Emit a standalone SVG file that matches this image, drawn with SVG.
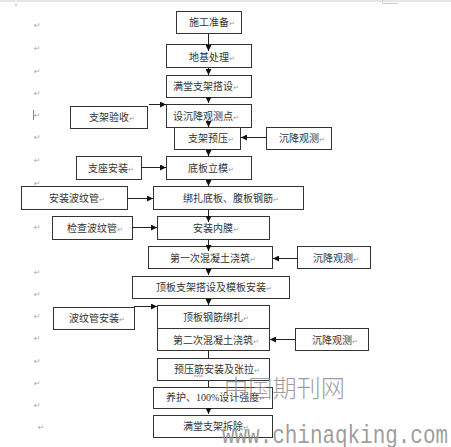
<svg xmlns="http://www.w3.org/2000/svg" width="451" height="447" viewBox="0 0 451 447">
<defs>
<marker id="ah" viewBox="0 0 10 10" refX="10" refY="5" markerWidth="6" markerHeight="6" orient="auto" markerUnits="userSpaceOnUse"><path d="M0,0 L10,5 L0,10 z" fill="#111"/></marker>
<style>
.box{fill:#fff;stroke:#333;stroke-width:1}
.t{font-family:"Liberation Serif","Noto Sans CJK SC",serif;font-size:10px;fill:#333}
.pm{font-family:"DejaVu Sans",sans-serif;font-size:7px;fill:#999}
.lm{font-family:"DejaVu Sans",sans-serif;font-size:8px;fill:#aaa}
.c{fill:none;stroke:#222;stroke-width:1}
.a{marker-end:url(#ah)}
.wm{font-family:"Noto Sans CJK SC",sans-serif;fill:#8c8c8c;fill-opacity:0.85}
</style>
</defs>
<rect width="451" height="447" fill="#fff"/>
<g id="page" stroke="#ccc" stroke-width="1" fill="none">
<line x1="0" y1="1" x2="451" y2="1"/>
<path d="M382.5,0 V3.5 H398"/>
<line x1="16" y1="4" x2="16" y2="6" stroke="#999"/>
<line x1="33.5" y1="110" x2="33.5" y2="120" stroke="#888"/>
</g>
<g id="margin-marks">
<text class="lm" x="34" y="28">↵</text>
<text class="lm" x="34" y="51">↵</text>
<text class="lm" x="34" y="74">↵</text>
<text class="lm" x="34" y="96">↵</text>
<text class="lm" x="34" y="118">↵</text>
<text class="lm" x="34" y="140">↵</text>
<text class="lm" x="34" y="163">↵</text>
<text class="lm" x="34" y="186">↵</text>
<text class="lm" x="34" y="230">↵</text>
<text class="lm" x="34" y="275">↵</text>
<text class="lm" x="34" y="297">↵</text>
<text class="lm" x="34" y="319">↵</text>
<text class="lm" x="34" y="341">↵</text>
<text class="lm" x="34" y="364">↵</text>
<text class="lm" x="34" y="386">↵</text>
<text class="lm" x="34" y="408">↵</text>
<text class="lm" x="38" y="430">↵</text>
</g>
<g id="n1"><rect class="box" x="176.5" y="11.5" width="65" height="22"/><text class="t" x="189" y="26">施工准备<tspan class="pm">↵</tspan></text></g>
<g id="n2"><rect class="box" x="166.5" y="44.5" width="85" height="23"/><text class="t" x="189" y="61">地基处理<tspan class="pm">↵</tspan></text></g>
<g id="n3"><rect class="box" x="166.5" y="75.5" width="85" height="22"/><text class="t" x="173" y="90">满堂支架搭设<tspan class="pm">↵</tspan></text></g>
<g id="n4"><rect class="box" x="166.5" y="104.5" width="85" height="23"/><text class="t" x="173" y="120">设沉降观测点<tspan class="pm">↵</tspan></text></g>
<g id="n5"><rect class="box" x="70.5" y="106.5" width="77" height="22"/><text class="t" x="89" y="121">支架验收<tspan class="pm">↵</tspan></text></g>
<g id="n6"><rect class="box" x="174.5" y="127.5" width="66" height="22"/><text class="t" x="188" y="142">支架预压<tspan class="pm">↵</tspan></text></g>
<g id="n7"><rect class="box" x="266.5" y="127.5" width="65" height="22"/><text class="t" x="279" y="142">沉降观测<tspan class="pm">↵</tspan></text></g>
<g id="n8"><rect class="box" x="166.5" y="156.5" width="85" height="23"/><text class="t" x="188" y="172">底板立模<tspan class="pm">↵</tspan></text></g>
<g id="n9"><rect class="box" x="76.5" y="156.5" width="65" height="23"/><text class="t" x="88" y="172">支座安装<tspan class="pm">↵</tspan></text></g>
<g id="n10"><rect class="box" x="153.5" y="186.5" width="150" height="23"/><text class="t" x="183" y="202">绑扎底板、腹板钢筋<tspan class="pm">↵</tspan></text></g>
<g id="n11"><rect class="box" x="21.5" y="186.5" width="106" height="23"/><text class="t" x="49" y="202">安装波纹管<tspan class="pm">↵</tspan></text></g>
<g id="n12"><rect class="box" x="157.5" y="216.5" width="112" height="23"/><text class="t" x="193" y="232">安装内膜<tspan class="pm">↵</tspan></text></g>
<g id="n13"><rect class="box" x="52.5" y="216.5" width="80" height="23"/><text class="t" x="67" y="232">检查波纹管<tspan class="pm">↵</tspan></text></g>
<g id="n14"><rect class="box" x="148.5" y="246.5" width="124" height="22"/><text class="t" x="170" y="262">第一次混凝土浇筑<tspan class="pm">↵</tspan></text></g>
<g id="n15"><rect class="box" x="297.5" y="246.5" width="73" height="22"/><text class="t" x="313" y="262">沉降观测<tspan class="pm">↵</tspan></text></g>
<g id="n16"><rect class="box" x="132.5" y="276.5" width="157" height="22"/><text class="t" x="156" y="291">顶板支架搭设及模板安装<tspan class="pm">↵</tspan></text></g>
<g id="n17"><rect class="box" x="157.5" y="305.5" width="112" height="23"/><text class="t" x="183" y="321">顶板钢筋绑扎<tspan class="pm">↵</tspan></text></g>
<g id="n18"><rect class="box" x="157.5" y="328.5" width="112" height="22"/><text class="t" x="173" y="344">第二次混凝土浇筑<tspan class="pm">↵</tspan></text></g>
<g id="n19"><rect class="box" x="53.5" y="307.5" width="81" height="22"/><text class="t" x="69" y="322">波纹管安装<tspan class="pm">↵</tspan></text></g>
<g id="n20"><rect class="box" x="295.5" y="328.5" width="73" height="22"/><text class="t" x="312" y="344">沉降观测<tspan class="pm">↵</tspan></text></g>
<g id="n21"><rect class="box" x="157.5" y="358.5" width="112" height="22"/><text class="t" x="174" y="373">预压筋安装及张拉<tspan class="pm">↵</tspan></text><path d="M194,376.5 l1.5,-1 l1.5,1 l1.5,-1 l1.5,1 l1.5,-1 l1.5,1" fill="none" stroke="#e33" stroke-width="0.7"/></g>
<g id="n22"><rect class="box" x="153.5" y="387.5" width="119" height="21"/><text class="t" x="166" y="401">养护、100%设计强度<tspan class="pm">↵</tspan></text></g>
<g id="n23"><rect class="box" x="153.5" y="415.5" width="119" height="22"/><text class="t" x="183" y="430">满堂支架拆除<tspan class="pm">↵</tspan></text></g>
<g id="connectors">
<path class="c a" d="M208.5,34 V51"/>
<path class="c a" d="M208.5,68 V75"/>
<path class="c a" d="M208.5,98 V103"/>
<path class="c a" d="M208.5,121 V127"/>
<path class="c a" d="M208.5,150 V156"/>
<path class="c a" d="M208.5,180 V186"/>
<path class="c a" d="M208.5,210 V222"/>
<path class="c a" d="M208.5,240 V251"/>
<path class="c a" d="M208.5,269 V275"/>
<path class="c a" d="M208.5,299 V305"/>
<path class="c" d="M208.5,351 V358"/>
<path class="c" d="M208.5,381 V387"/>
<path class="c a" d="M208.5,409 V414"/>
<path class="c a" d="M149,104.5 H166"/>
<path class="c a" d="M266,137.5 H241"/>
<path class="c a" d="M141,167.5 H166"/>
<path class="c a" d="M127,198.5 H153"/>
<path class="c a" d="M132,227.5 H157"/>
<path class="c a" d="M297,258.5 H273"/>
<path class="c a" d="M134,306.5 H157"/>
<path class="c a" d="M295,339.5 H270"/>
</g>
<g id="watermark">
<text class="wm" x="224" y="397" font-size="24" textLength="121" lengthAdjust="spacingAndGlyphs" font-weight="300">中国期刊网</text>
<text class="wm" x="222" y="443" style="font-family:'Liberation Mono',monospace" font-size="25" textLength="226" lengthAdjust="spacingAndGlyphs">www.chinaqking.com</text>
</g>
</svg>
